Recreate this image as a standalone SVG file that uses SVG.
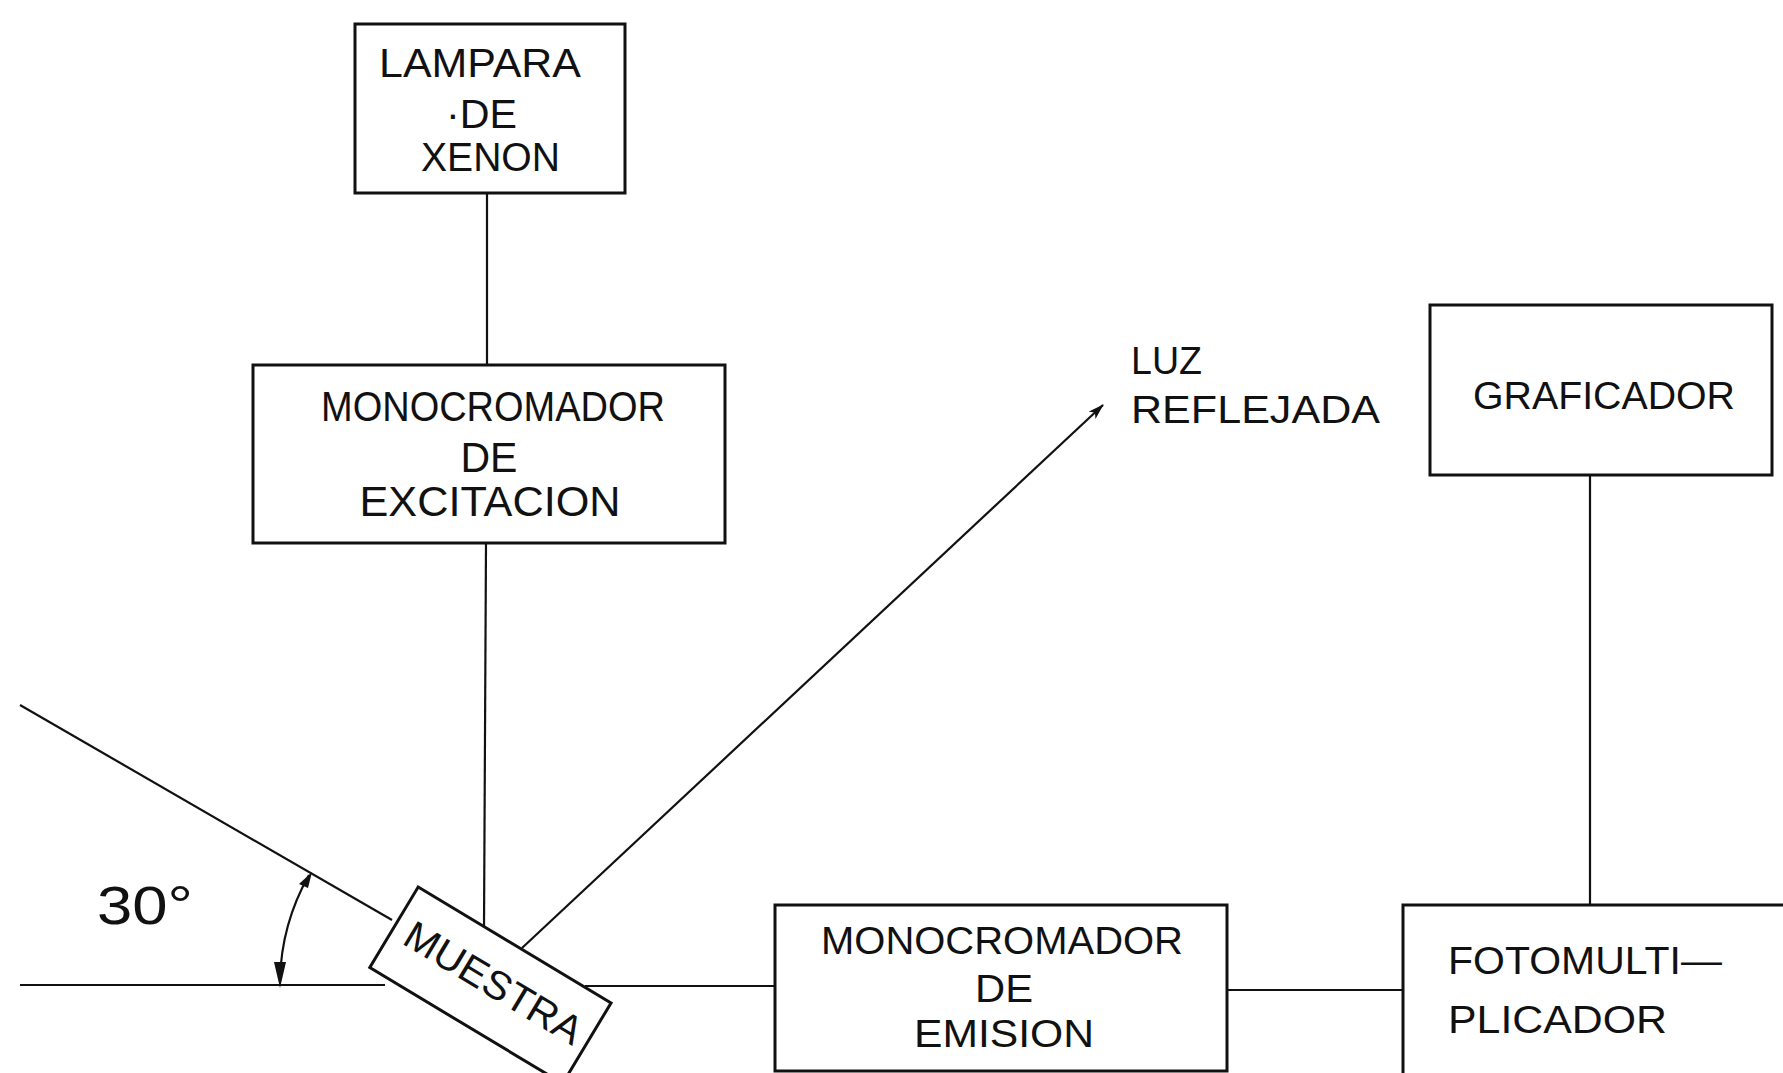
<svg xmlns="http://www.w3.org/2000/svg" width="1783" height="1073" viewBox="0 0 1783 1073">
<defs>
<style>
.box{fill:none;stroke:#111;stroke-width:3}
.ln{fill:none;stroke:#111;stroke-width:2.2}
.t{font-family:"Liberation Sans",Arial,sans-serif;fill:#111;font-size:40px}
.s38{font-size:38px}
.s42{font-size:42px}
</style>
<marker id="ah" markerWidth="16" markerHeight="10" refX="15" refY="5" orient="auto" markerUnits="userSpaceOnUse">
<path d="M0,0 L16,5 L0,10 L4,5 Z" fill="#111"/>
</marker>
</defs>
<rect width="1783" height="1073" fill="#fff"/>

<g id="connectors">
<line class="ln" x1="487" y1="193" x2="487" y2="365"/>
<line class="ln" x1="486" y1="543" x2="484" y2="927"/>
<line class="ln" x1="20" y1="705" x2="392" y2="920"/>
<line class="ln" x1="20" y1="985" x2="385" y2="985" stroke-width="1.6"/>
<line class="ln" x1="585" y1="986" x2="775" y2="986" stroke-width="1.6"/>
<line class="ln" x1="1227" y1="990" x2="1403" y2="990" stroke-width="1.6"/>
<line class="ln" x1="1590" y1="475" x2="1590" y2="905"/>
<line class="ln" x1="522" y1="948" x2="1103" y2="405" marker-end="url(#ah)"/>
<path class="ln" stroke-width="3" d="M 280 980 A 224 224 0 0 1 309 875"/>
<path d="M280,988 L274,962 L286,962 Z" fill="#111"/>
<path d="M312,872 L299,884 L308,888 Z" fill="#111"/>
</g>

<g id="lampara">
<rect class="box" x="355" y="24" width="270" height="169"/>
<text class="t" x="379" y="77" textLength="202" lengthAdjust="spacingAndGlyphs">LAMPARA</text>
<text class="t" x="446" y="128" textLength="71" lengthAdjust="spacingAndGlyphs">·DE</text>
<text class="t" x="421" y="171" textLength="139" lengthAdjust="spacingAndGlyphs">XENON</text>
</g>

<g id="mono-excitacion">
<rect class="box" x="253" y="365" width="472" height="178"/>
<text class="t s42" x="493" y="421" text-anchor="middle" textLength="344" lengthAdjust="spacingAndGlyphs">MONOCROMADOR</text>
<text class="t s42" x="489" y="472" text-anchor="middle" textLength="57" lengthAdjust="spacingAndGlyphs">DE</text>
<text class="t s42" x="490" y="516" text-anchor="middle" textLength="261" lengthAdjust="spacingAndGlyphs">EXCITACION</text>
</g>

<g id="luz-reflejada">
<text class="t s38" x="1131" y="374" textLength="71" lengthAdjust="spacingAndGlyphs">LUZ</text>
<text class="t s38" x="1131" y="423" textLength="249" lengthAdjust="spacingAndGlyphs">REFLEJADA</text>
</g>

<g id="graficador">
<rect class="box" x="1430" y="305" width="342" height="170"/>
<text class="t s38" x="1473" y="409" textLength="262" lengthAdjust="spacingAndGlyphs">GRAFICADOR</text>
</g>

<g id="angulo">
<text class="t" x="97" y="924" textLength="96" lengthAdjust="spacingAndGlyphs" style="font-size:53px">30°</text>
</g>

<g id="muestra" transform="translate(490,985) rotate(31)">
<rect class="box" x="-112" y="-47" width="225" height="94"/>
<text class="t" x="2" y="10" text-anchor="middle" textLength="200" lengthAdjust="spacingAndGlyphs">MUESTRA</text>
</g>

<g id="mono-emision">
<rect class="box" x="775" y="905" width="452" height="166"/>
<text class="t s38" x="1002" y="954" text-anchor="middle" textLength="362" lengthAdjust="spacingAndGlyphs">MONOCROMADOR</text>
<text class="t s38" x="1004" y="1002" text-anchor="middle" textLength="58" lengthAdjust="spacingAndGlyphs">DE</text>
<text class="t s38" x="1004" y="1047" text-anchor="middle" textLength="180" lengthAdjust="spacingAndGlyphs">EMISION</text>
</g>

<g id="fotomultiplicador">
<rect class="box" x="1403" y="905" width="400" height="200"/>
<text class="t s38" x="1448" y="974" textLength="274" lengthAdjust="spacingAndGlyphs">FOTOMULTI—</text>
<text class="t s38" x="1448" y="1033" textLength="219" lengthAdjust="spacingAndGlyphs">PLICADOR</text>
</g>
</svg>
